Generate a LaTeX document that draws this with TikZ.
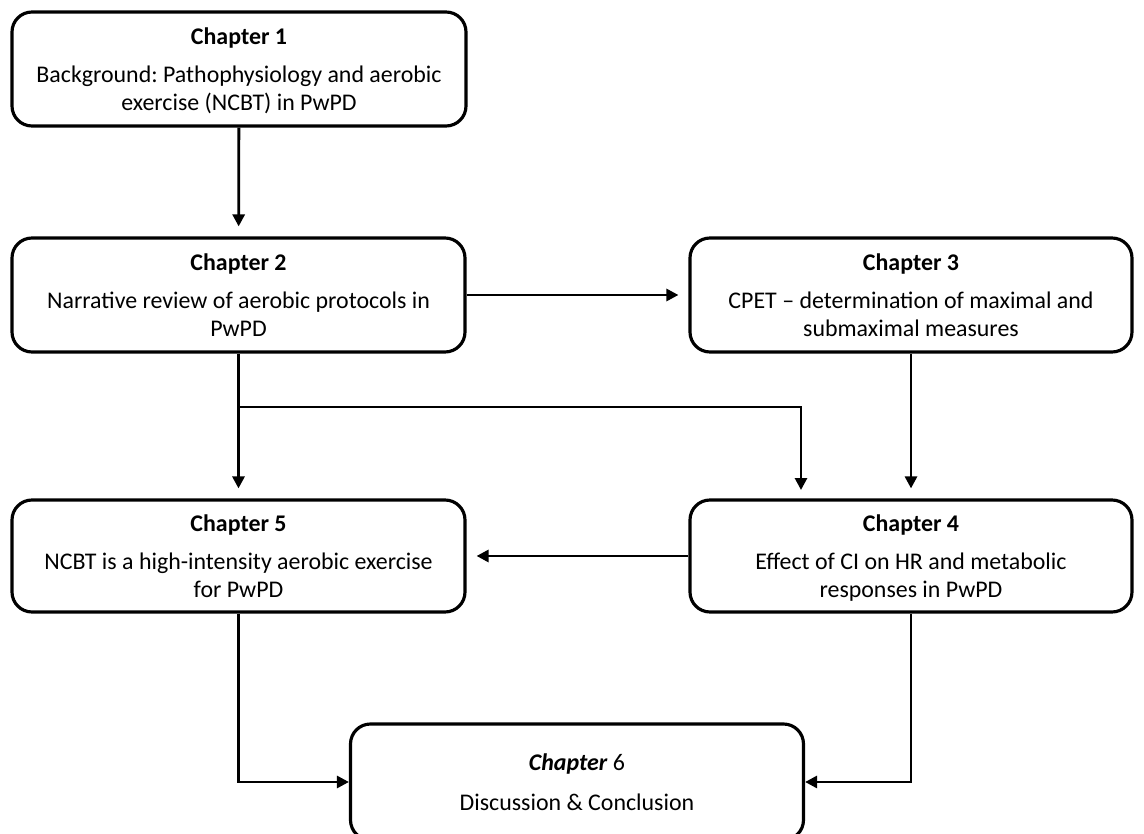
\documentclass[tikz,border=0pt]{standalone}
\usepackage{fontspec}
\setmainfont{Carlito}
\usetikzlibrary{calc}
\usetikzlibrary{arrows.meta}

\begin{document}
\frenchspacing
\begin{tikzpicture}[
  chap/.style={draw, line width=1.8pt, rounded corners=0.4cm, align=center,
    inner sep=0pt, font=\fontsize{13.6}{16}\selectfont},
  arr/.style={line width=1.6pt, -{Triangle[length=0.24cm,width=0.24cm]}},
  gap/.style={shorten >=0.2cm}]
\def\u{0.02cm}
\def\hd{\rule{0pt}{14.6pt}}
\useasboundingbox (0,0) rectangle (1144*\u, -834*\u);

\node[chap, minimum width=454*\u, minimum height=114*\u] (c1) at (239*\u, -69*\u)
  {\hd\textbf{Chapter 1}\\[5.8pt] Background: Pathophysiology and aerobic\\ exercise (NCBT) in PwPD\strut};
\node[chap, minimum width=453*\u, minimum height=114*\u] (c2) at (238.5*\u, -295*\u)
  {\hd\textbf{Chapter 2}\\[5.8pt] Narrative review of aerobic protocols in\\ PwPD\strut};
\node[chap, minimum width=442*\u, minimum height=114*\u] (c3) at (911*\u, -295*\u)
  {\hd\textbf{Chapter 3}\\[5.8pt] CPET -- determination of maximal and\\ submaximal measures\strut};
\node[chap, minimum width=453*\u, minimum height=112*\u] (c5) at (238.5*\u, -556*\u)
  {\hd\textbf{Chapter 5}\\[5.8pt] NCBT is a high-intensity aerobic exercise\\ for PwPD\strut};
\node[chap, minimum width=442*\u, minimum height=112*\u] (c4) at (911*\u, -556*\u)
  {\hd\textbf{Chapter 4}\\[5.8pt] Effect of CI on HR and metabolic\\ responses in PwPD\strut};
\node[chap, minimum width=453*\u, minimum height=116*\u] (c6) at (577*\u, -782*\u)
  {\hd\textbf{\textit{Chapter}} 6\\[6.5pt] Discussion \& Conclusion\strut};

% branch from chapter 2 to chapter 4
\coordinate (s) at (238.5*\u, -407*\u);
\coordinate (t) at (801*\u, -500*\u);

\draw[arr, gap] (c1) -- (c2);
\draw[arr, gap] (c2) -- (c3);
\draw[arr, gap] (c2) -- (c5);
\draw[arr, gap] (s) -| (t);
\draw[arr, gap] (c3) -- (c4);
\draw[arr, gap] (c4) -- (c5);
\draw[arr] (c5.south) |- (c6.west);
\draw[arr] (c4.south) |- (c6.east);
\end{tikzpicture}
\end{document}
